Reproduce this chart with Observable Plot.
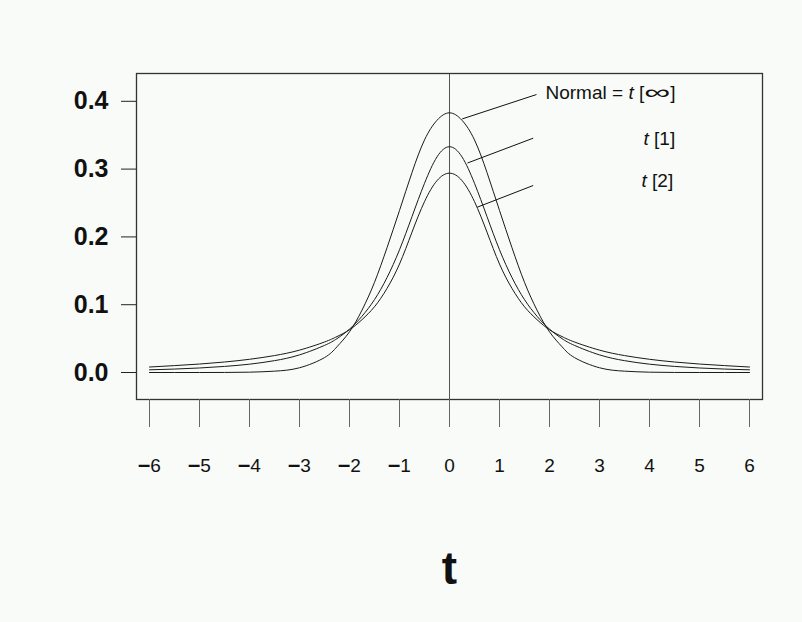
<!DOCTYPE html>
<html>
<head>
<meta charset="utf-8">
<script src="https://cdn.jsdelivr.net/npm/d3@7"></script>
<script src="https://cdn.jsdelivr.net/npm/@observablehq/plot@0.6"></script>
<style>
  html, body { margin: 0; padding: 0; background: #f8fbf8; }
  #chart { width: 802px; height: 622px; }
</style>
</head>
<body>
<div id="chart"></div>
<script>
// ---- data ----
const xs = [-6,-5.5,-5,-4.5,-4,-3.5,-3,-2.5,-2.25,-2,-1.75,-1.5,-1.25,-1,-0.75,-0.5,-0.25,0,
            0.25,0.5,0.75,1,1.25,1.5,1.75,2,2.25,2.5,3,3.5,4,4.5,5,5.5,6];
const normalY = [0,0,0,0.0001,0.0005,0.002,0.007,0.022,0.038,0.060,0.092,0.133,0.184,0.239,0.295,0.343,0.372,0.383,
                 0.372,0.343,0.295,0.239,0.184,0.133,0.092,0.060,0.038,0.022,0.007,0.002,0.0005,0.0001,0,0,0];
const t1Y = [0.0040,0.0051,0.0067,0.009,0.0123,0.0175,0.026,0.040,0.050,0.064,0.083,0.1075,0.140,0.181,0.230,0.279,0.318,0.333,
             0.318,0.279,0.230,0.181,0.140,0.1075,0.083,0.064,0.050,0.040,0.026,0.0175,0.0123,0.009,0.0067,0.0051,0.0040];
const t2Y = [0.0081,0.0102,0.0125,0.0155,0.0195,0.025,0.033,0.045,0.053,0.063,0.078,0.097,0.124,0.160,0.207,0.252,0.283,0.294,
             0.283,0.252,0.207,0.160,0.124,0.097,0.078,0.063,0.053,0.045,0.033,0.025,0.0195,0.0155,0.0125,0.0102,0.0081];

const xTicks = [-6,-5,-4,-3,-2,-1,0,1,2,3,4,5,6];
const yTicks = [0, 0.1, 0.2, 0.3, 0.4];
const xLabel = "t";

// annotations: label text, label anchor, pointer line ends
const labelText = ["Normal = t [∞]", "t [1]", "t [2]"];
const labelX = [1.92, 3.88, 3.84];
const labelY = [0.413, 0.345, 0.283];
const ptrX1 = [1.74, 1.674, 1.674];
const ptrY1 = [0.410, 0.3456, 0.2758];
const ptrX2 = [0.254, 0.36, 0.554];
const ptrY2 = [0.374, 0.309, 0.2438];

// ---- tables built from the arrays ----
const series = [
  {name: "Normal", ys: normalY},
  {name: "t1", ys: t1Y},
  {name: "t2", ys: t2Y}
];
const lineData = series.flatMap(s => xs.map((x, i) => ({series: s.name, x, y: s.ys[i]})));
const labels = labelText.map((t, i) => ({text: t, x: labelX[i], y: labelY[i]}));
const pointers = labelText.map((t, i) => ({x1: ptrX1[i], y1: ptrY1[i], x2: ptrX2[i], y2: ptrY2[i]}));

const font = "'Liberation Sans', Arial, Helvetica, sans-serif";

const chart = Plot.plot({
  width: 802,
  height: 622,
  marginLeft: 136,
  marginRight: 40,
  marginTop: 73,
  marginBottom: 223,
  style: {background: "#f8fbf8", fontFamily: font, color: "#111"},
  x: {domain: [-6.26, 6.26], label: null},
  y: {domain: [-0.0398, 0.441], label: null},
  marks: [
    Plot.ruleX([0], {stroke: "#555", strokeWidth: 1}),
    Plot.line(lineData, {x: "x", y: "y", z: "series", stroke: "#1a1a1a", strokeWidth: 1, curve: "natural"}),
    Plot.link(pointers, {x1: "x1", y1: "y1", x2: "x2", y2: "y2", stroke: "#111", strokeWidth: 1}),
    Plot.text(labels, {x: "x", y: "y", text: "text", textAnchor: "start", fontSize: 19, fill: "#111", fontFamily: font}),
    Plot.frame({stroke: "#333", strokeWidth: 1.3}),
    Plot.axisY({ticks: yTicks, tickFormat: d => d.toFixed(1), tickSize: 15, tickPadding: 13,
                fontSize: 25, fontWeight: "bold", stroke: "#222", fill: "#111", label: null}),
    Plot.axisX({ticks: xTicks, tickFormat: d => d < 0 ? "\u2212" + Math.abs(d) : String(d),
                tickSize: 28, tickPadding: 31, fontSize: 19, stroke: "#666", fill: "#111", label: null}),
    Plot.text([xLabel], {frameAnchor: "bottom", text: d => d, dy: 184, lineAnchor: "bottom",
                         fontSize: 46, fontWeight: "bold", fill: "#111", fontFamily: font})
  ]
});

document.getElementById("chart").appendChild(chart);

// x tick labels: bold wide minus
const xtl = d3.select(chart).select('g[aria-label="x-axis tick label"]');
xtl.selectAll("text").each(function() {
  const s = this.textContent;
  if (s.startsWith("\u2212")) {
    const el = d3.select(this);
    el.text(null);
    el.append("tspan").attr("font-weight", "900").attr("font-size", 22).text("\u2013");
    el.append("tspan").text(s.slice(1));
  }
});

// italic "t" and wide infinity in the annotation labels
d3.select(chart).selectAll("text").each(function() {
  const s = this.textContent;
  const m = /^(.*?)t (\[)(.*)(\])$/.exec(s);
  if (m && this.children.length === 0) {
    const el = d3.select(this);
    el.text(null);
    if (m[1]) el.append("tspan").text(m[1]);
    el.append("tspan").attr("font-style", "italic").text("t");
    el.append("tspan").text(" " + m[2]);
    if (m[3] === "∞") {
      el.append("tspan").attr("font-size", 20).attr("dy", "0.03em")
        .attr("textLength", 26).attr("lengthAdjust", "spacingAndGlyphs").text(m[3]);
      el.append("tspan").attr("dy", "-0.03em").text(m[4]);
    } else {
      el.append("tspan").text(m[3]);
      el.append("tspan").text(m[4]);
    }
  }
});
</script>
</body>
</html>
